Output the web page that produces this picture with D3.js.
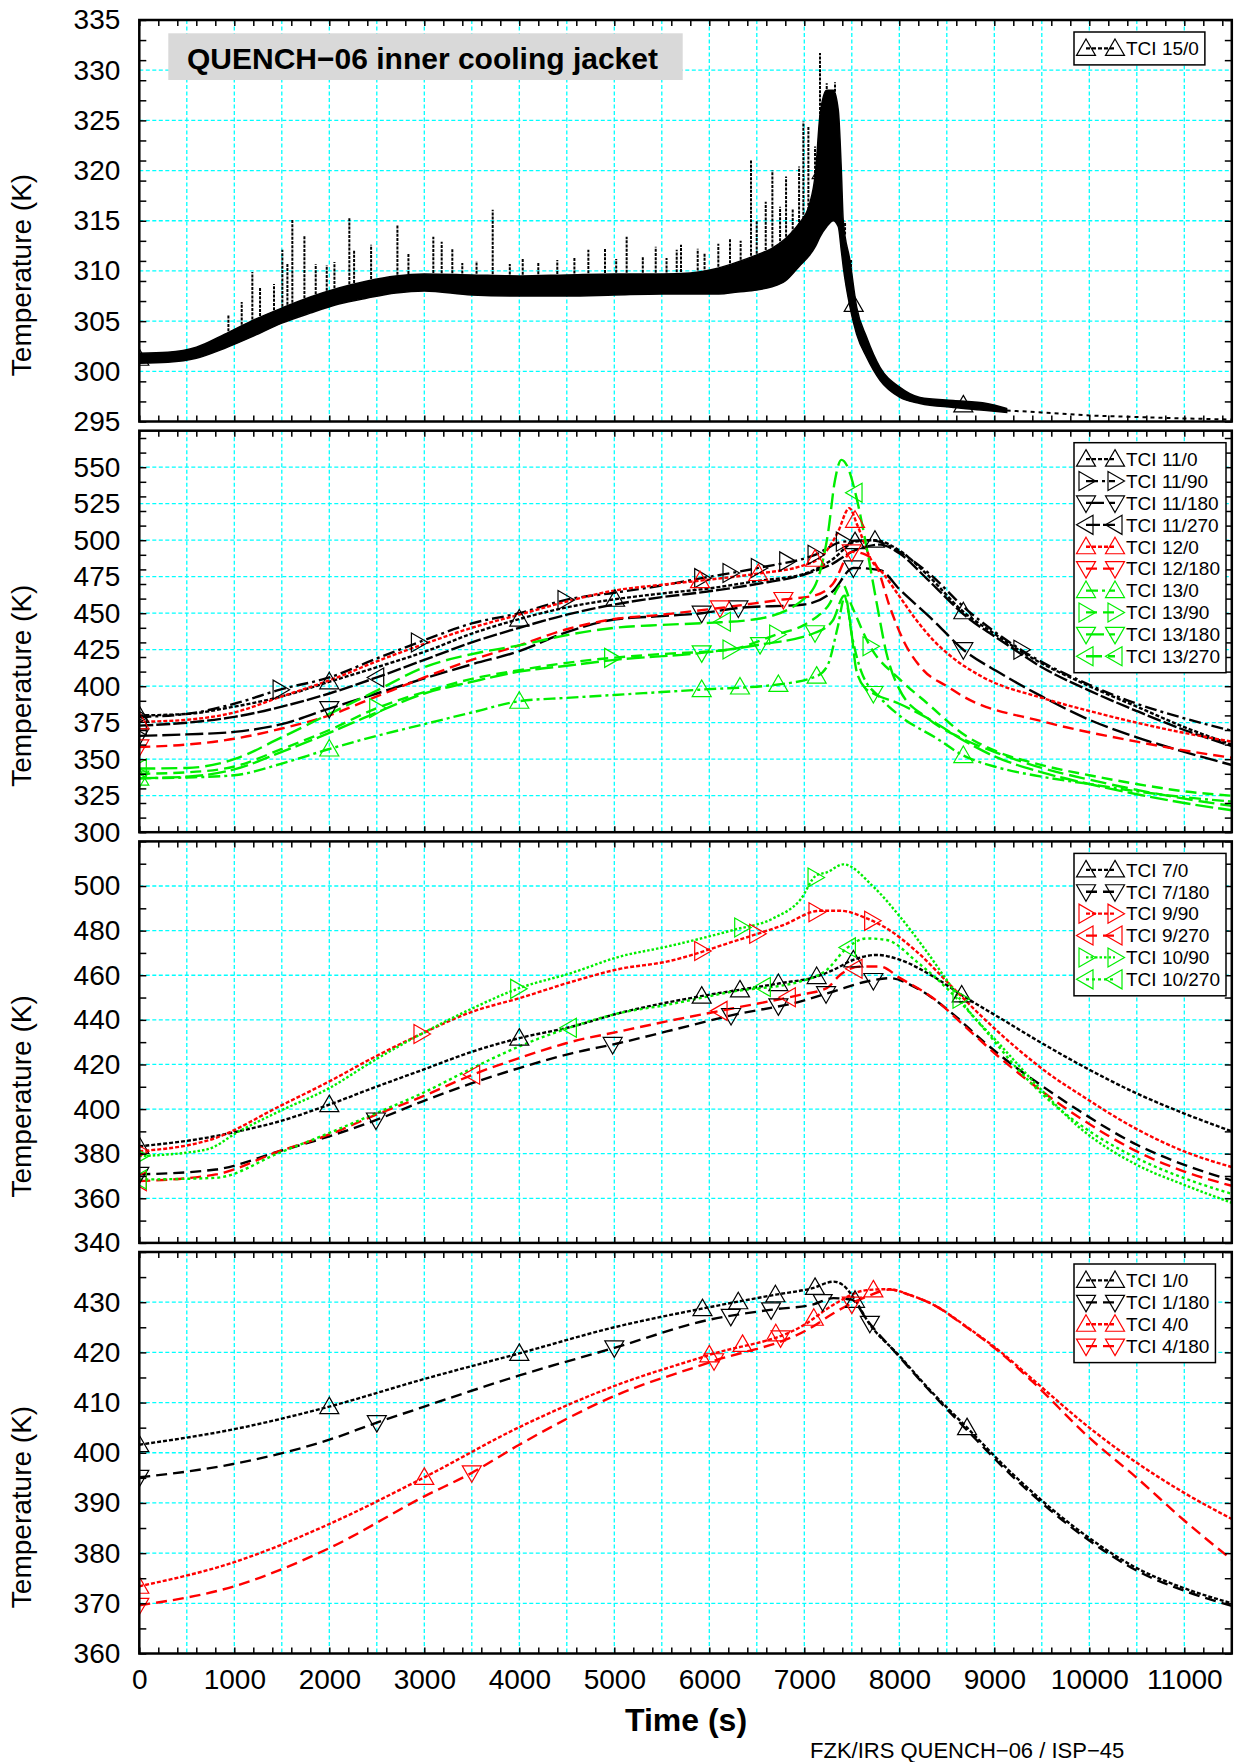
<!DOCTYPE html>
<html>
<head>
<meta charset="utf-8">
<script src="https://cdn.jsdelivr.net/npm/d3@7"></script>
<style>
  body { margin: 0; background: #fff; }
  text { font-family: "Liberation Sans", Arial, Helvetica, sans-serif; }
</style>
</head>
<body>
<svg id="chart" width="1234" height="1762"></svg>
<script>
// ---------------- data ----------------
const timeTicks = [0, 1000, 2000, 3000, 4000, 5000, 6000, 7000, 8000, 9000, 10000, 11000];

// Panel 1: TCI 15/0 (noisy signal given as a band plus individual spikes)
const tci15Time = [0, 300, 600, 900, 1200, 1500, 1800, 2100, 2400, 2700, 3000, 3500, 4000, 4500, 5000, 5500, 5800, 6100, 6300, 6500, 6650, 6800, 6950, 7050, 7120, 7165, 7235, 7305, 7358, 7390, 7410, 7481, 7551, 7656, 7797, 8007, 8218, 8569, 8920, 9130];
const tci15Low  = [300.8, 300.9, 301.3, 302.3, 303.5, 304.8, 305.8, 306.7, 307.3, 307.8, 308.0, 307.6, 307.5, 307.5, 307.6, 307.7, 307.7, 307.7, 307.9, 308.1, 308.4, 309.0, 310.5, 311.5, 312.5, 313.4, 314.4, 315.0, 314.4, 312.0, 310.4, 306.4, 303.7, 301.4, 299.1, 297.4, 296.8, 296.4, 296.1, 295.9];
const tci15High = [301.8, 301.9, 302.4, 303.7, 305.1, 306.3, 307.4, 308.3, 309.0, 309.5, 309.7, 309.6, 309.5, 309.6, 309.7, 309.7, 309.8, 310.3, 310.9, 311.6, 312.2, 313.2, 314.8, 316.5, 320.0, 325.5, 328.0, 328.0, 326.0, 320.0, 315.0, 311.0, 306.4, 303.4, 300.4, 298.4, 297.4, 297.1, 296.8, 296.3];
const tci15SpikeTime = [938, 1078, 1190, 1271, 1418, 1506, 1559, 1611, 1738, 1857, 1973, 2054, 2211, 2261, 2440, 2717, 2833, 3095, 3183, 3295, 3400, 3550, 3720, 3900, 4036, 4200, 4400, 4580, 4727, 4902, 5020, 5130, 5300, 5436, 5550, 5657, 5702, 5878, 5950, 6095, 6218, 6330, 6439, 6499, 6594, 6664, 6745, 6808, 6878, 6945, 6990, 7043, 7113, 7165, 7236, 7323, 7429, 7492];
const tci15SpikePeak = [305.6, 306.9, 309.9, 308.4, 308.7, 312.1, 310.7, 315.1, 313.5, 310.7, 310.6, 310.9, 315.3, 312.1, 312.6, 314.6, 311.7, 313.4, 312.9, 312.2, 310.8, 311.0, 316.1, 310.7, 311.2, 310.9, 311.1, 311.4, 312.1, 312.2, 311.2, 313.4, 311.5, 312.4, 311.3, 312.1, 312.6, 312.2, 311.8, 312.7, 313.2, 313.0, 321.1, 315.0, 316.9, 320.0, 316.4, 319.4, 316.2, 320.4, 324.9, 324.4, 322.4, 331.7, 328.7, 328.8, 314.9, 311.1];
const tci15Tail = [[9130, 296.1], [9500, 295.9], [10000, 295.6], [10500, 295.45], [11000, 295.3], [11500, 295.2]];
const tci15Marks = [0, 5920, 6727, 7183, 7520, 8674];

// Panel 2: elevations 11, 12, 13
const tci11_0 = [[0,380],[500,381],[1000,386],[1500,393],[2000,403],[2500,413],[3000,423.5],[3500,436],[4000,446],[4500,454],[5000,459.5],[5500,463.5],[6000,467],[6500,472],[7000,477],[7300,487],[7534,499],[7744,500],[8000,493],[8300,476],[8674,451],[9000,436],[9300,423],[10000,400],[10500,386],[11000,372],[11500,360]];
const tci11_0Marks = [0, 2000, 4000, 5008, 7534, 7744, 8674];
const tci11_90 = [[0,379],[500,381],[1000,388],[1500,398],[2000,406],[2500,419],[3000,431.5],[3500,443],[4000,450],[4481,459],[5000,464],[5500,469],[5920,474],[6516,481],[7113,490],[7411,499],[7700,500],[8000,492],[8300,478],[8700,453],[9280,425],[10000,401],[10500,388],[11000,378],[11500,369.5]];
const tci11_90Marks = [0, 1482, 2938, 4481, 5920, 6218, 6516, 6815, 7113, 7411, 9280];
const tci11_180 = [[0,366],[500,367],[1000,368.7],[1500,374],[2000,384.7],[2500,395],[3000,405.3],[3500,415],[4000,424],[4500,437],[5000,445.7],[5500,448],[5920,450],[6306,453.6],[7000,456],[7300,465],[7516,481],[7797,479.5],[8007,466],[8358,445],[8674,425],[9060,409],[9500,393],[10000,377],[10500,365],[11000,355],[11500,346]];
const tci11_180Marks = [0, 2000, 5920, 6306, 7516, 8674];
const tci11_270 = [[0,373],[500,375],[1000,379],[1500,386],[2000,395],[2499,406],[3000,418],[3500,430],[4000,440],[4500,449],[5000,456],[5500,461],[6000,465],[6500,470],[7000,476.5],[7300,484],[7500,492],[7800,497],[8000,491],[8300,473],[8700,448],[9100,430],[9500,413],[10000,397],[10500,383],[11000,370],[11500,359]];
const tci11_270Marks = [0, 2499];
const tci12_0 = [[0,375.6],[500,377],[1000,382],[1500,393],[2000,404],[2500,417],[3000,429],[3500,440],[4000,449],[4500,458],[5000,465.5],[5500,469.5],[6000,473],[6500,477],[7000,483],[7200,490],[7350,505],[7474,522],[7560,510],[7700,487],[7832,477],[8007,461],[8183,445],[8358,431.5],[8534,421],[8885,406],[9500,392],[10000,383],[10500,375],[11000,368],[11500,362]];
const tci12_0Marks = [0, 5902, 6516, 7113, 7534];
const tci12_180 = [[0,358.4],[500,360],[1000,364],[1500,371],[2000,380],[2500,393],[3000,406],[3500,418],[4000,428],[4500,439],[5000,446],[5500,449],[6113,453.6],[6780,459.4],[7100,462],[7300,470],[7499,492],[7650,490],[7762,482],[7902,454],[8042,431.5],[8253,411],[8500,400],[8700,392],[9500,376],[10500,362],[11000,356],[11500,351]];
const tci12_180Marks = [0, 6113, 6780, 7499];
const tci13_0 = [[0,337],[500,337.5],[1000,339],[1500,347],[2000,357],[2500,366],[3000,374],[3500,382],[4000,389.7],[4500,392],[5000,394],[5500,396],[5920,397.7],[6727,401.2],[7130,406.9],[7250,415],[7350,440],[7430,462],[7500,435],[7600,410],[7800,392],[8000,380],[8400,364],[8674,352.5],[9000,345],[9500,338],[10000,333],[10500,328],[11000,324],[11500,321]];
const tci13_0Marks = [0, 2000, 4000, 5920, 6323, 6727, 7130, 8674];
const tci13_90 = [[0,340],[500,341],[1000,345],[1500,357],[2000,370],[2500,385],[3000,396],[3500,405],[4000,411],[4500,416],[4972,419.4],[5500,422],[6218,425.1],[6709,435.4],[7000,442],[7250,455],[7400,470],[7500,455],[7692,427.4],[8000,405],[8300,388],[8700,366],[9000,356],[9500,346],[10000,339],[10500,333],[11000,328],[11500,325]];
const tci13_90Marks = [0, 2499, 4972, 6218, 6709, 7692];
const tci13_180 = [[0,337],[500,338],[1000,343],[1500,355],[2000,368],[2500,382],[3000,395],[3500,403],[4000,410],[4500,414],[5000,418],[5920,422.8],[6534,428.5],[7113,436.6],[7300,445],[7420,462],[7480,445],[7551,410],[7650,398],[7727,395],[8000,388],[8300,378],[8700,362],[9000,352],[9500,341],[10000,333],[10500,326],[11000,320],[11500,315]];
const tci13_180Marks = [0, 5920, 6534, 7113, 7727];
const tci13_270 = [[0,343.6],[500,344],[1000,350],[1500,365],[2000,381],[2500,397],[3000,413],[3500,422],[4000,428],[4500,435],[5000,440],[5500,442],[6000,443.4],[6500,446],[7000,460],[7150,475],[7250,505],[7320,540],[7390,555],[7450,551],[7550,529],[7656,495],[7762,457],[7867,422],[8000,398],[8300,378],[8700,363],[9000,355],[9500,344],[10000,336],[10500,329],[11000,323],[11500,318]];
const tci13_270Marks = [0, 6148, 7534];

// Panel 3: elevations 7, 9, 10
const tci7_0 = [[0,383.3],[700,387.1],[1050,390.1],[1475,394.5],[2000,402],[2456,409.4],[2983,417.6],[3509,425.8],[4000,431.8],[4560,437],[5050,443],[5900,450.5],[6744,456.4],[7130,459.4],[7306,462.4],[7516,466.9],[7762,469.1],[8008,466.9],[8358,459.4],[8710,449.7],[9061,440.8],[9411,431.8],[9902,419.9],[10500,407],[11000,398],[11500,390]];
const tci7_0Marks = [0, 2000, 4000, 5920, 6323, 6727, 7130, 7516, 8657];
const tci7_180 = [[0,370.7],[807,372.9],[1474,381.1],[2000,387.8],[2456,394.5],[2983,403.5],[3509,411.7],[4000,418.4],[4562,425.1],[5053,429.6],[5551,434.8],[6253,442.2],[6955,448.2],[7306,452.7],[7657,457.2],[7902,458.7],[8183,454.2],[8534,443.7],[8885,430.3],[9236,418.4],[9587,407.9],[9902,399],[10500,384],[11000,375],[11500,368]];
const tci7_180Marks = [0, 2491, 4983, 6229, 6727, 7229, 7727];
const tci9_90 = [[0,381.1],[807,387.1],[1474,401.2],[2000,412.4],[2456,422.9],[2983,434],[3509,443.7],[4000,449.7],[4562,457.2],[5053,462.8],[5551,466.1],[6253,475.1],[6779,482.5],[7165,488.9],[7376,488.9],[7657,485.5],[7867,481],[8183,470.6],[8534,455.7],[8885,440.8],[9236,427.3],[9587,415.4],[9902,406.5],[10500,391],[11000,381],[11500,374]];
const tci9_90Marks = [0, 2965, 5920, 6499, 7123, 7709];
const tci9_270 = [[0,367.7],[807,370.7],[1474,381.1],[2000,388.6],[2456,396.8],[2983,405.7],[3509,415.4],[4000,422.9],[4562,430.3],[5053,434.8],[5551,439.3],[6253,445.2],[6955,451.2],[7236,454.2],[7376,460.1],[7587,463.9],[7797,463.9],[8008,458.7],[8358,449.7],[8710,436.3],[9061,422.9],[9411,410.9],[9902,396],[10500,381],[11000,372],[11500,365.6]];
const tci9_270Marks = [0, 3509, 6113, 6832, 7534];
const tci10_90 = [[0,378.9],[702,381.8],[1053,390.1],[1474,399],[2000,409.4],[2456,421.4],[2983,434],[3509,445.2],[4000,454.2],[4562,461.2],[5053,468.3],[5551,472.8],[6253,480.3],[6674,485.5],[6955,493.7],[7130,504.9],[7236,506.1],[7411,509.7],[7727,499.7],[8008,486.2],[8288,470.6],[8534,455.7],[8710,445.2],[9061,428.8],[9411,412.4],[9902,391.5],[10500,375],[11000,366],[11500,358]];
const tci10_90Marks = [0, 3983, 6341, 7113, 8639];
const tci10_270 = [[0,368.4],[807,369.2],[1474,380.4],[2000,389.3],[2456,397.5],[2983,407.2],[3509,418.4],[4000,428.1],[4562,437],[5053,443],[5551,446.7],[6253,452.7],[6955,457.2],[7236,462.4],[7446,472.1],[7657,476.5],[7867,475.8],[8183,466.1],[8534,452.7],[8885,436.3],[9236,418.4],[9587,403.5],[9902,393],[10500,378],[11000,369],[11500,362]];
const tci10_270Marks = [0, 4527, 6569, 7464];

// Panel 4: elevations 1, 4
const tci1_0 = [[0,401.6],[1000,404.7],[2000,409.2],[3000,414.7],[4000,419.8],[5000,425],[6000,429],[6700,431.5],[7087,432.8],[7307,434.1],[7400,433.5],[7550,430],[7657,426.5],[8007,419.2],[8288,413.2],[8713,405],[9180,396],[10000,383],[10500,377],[11000,373],[11500,370]];
const tci1_0Marks = [0, 2000, 4000, 5928, 6305, 6696, 7113, 7534, 8713];
const tci1_180 = [[0,395.1],[1000,397.8],[2000,402.6],[2500,406],[3000,409.2],[4000,415.4],[5000,420.9],[6000,426.5],[6696,428.6],[7087,429.5],[7307,430.8],[7500,430.5],[7657,426.5],[8007,419],[8288,413],[8713,404.5],[9180,395.5],[10000,382.5],[10500,376.5],[11000,372.5],[11500,369.5]];
const tci1_180Marks = [0, 2500, 5000, 6226, 6650, 7193, 7690];
const tci4_0 = [[0,373.4],[1000,378.2],[2000,385.8],[3000,395.1],[4000,405.1],[5000,413.3],[6000,419.5],[7000,425.5],[7307,429.5],[7657,432.4],[7900,432.6],[8100,431.5],[8358,429.5],[8709,425.1],[9060,420.2],[9411,414.5],[10000,405],[10500,398],[11000,392],[11500,386.8]];
const tci4_0Marks = [0, 3000, 6000, 6350, 6700, 7100, 7727];
const tci4_180 = [[0,369.6],[1000,373.4],[2000,381],[3000,391.3],[3500,396],[4000,401.6],[5000,411.3],[6000,418],[7087,425.1],[7307,427.8],[7657,431.1],[7900,432.5],[8100,431.5],[8358,429.5],[8709,425],[9060,420],[9411,414],[10000,403],[10500,395],[11000,386.5],[11500,378.7]];
const tci4_180Marks = [0, 3500, 6050, 6750, 7500];

// axis ranges and tick values per panel
const p1Domain = [295, 335], p1Labels = d3.range(295, 336, 5), p1Minor = d3.range(295, 336, 2);
const p2Domain = [300, 575], p2Labels = d3.range(300, 551, 25), p2Minor = d3.range(300, 576, 10);
const p3Domain = [340, 520], p3Labels = d3.range(340, 501, 20), p3Minor = d3.range(340, 521, 10);
const p4Domain = [360, 440], p4Labels = d3.range(360, 431, 10), p4Minor = d3.range(360, 441, 5);

// ---------------- styles ----------------
const BLACK = "#000000", RED = "#ff0000", GREEN = "#00ee00";
const DOT = "4,2", DASH = "11,6", LONG = "18,5", DASHDOT = "12,4,3,4", FINE = "2.5,2";

const tci15Series = { name: "TCI 15/0", color: BLACK, dash: "4,2", shape: "up" };

const panel2Series = [
  { name: "TCI 11/0",   data: tci11_0,   marks: tci11_0Marks,   color: BLACK, dash: DOT,     shape: "up" },
  { name: "TCI 11/90",  data: tci11_90,  marks: tci11_90Marks,  color: BLACK, dash: DASHDOT, shape: "right" },
  { name: "TCI 11/180", data: tci11_180, marks: tci11_180Marks, color: BLACK, dash: LONG,    shape: "down" },
  { name: "TCI 11/270", data: tci11_270, marks: tci11_270Marks, color: BLACK, dash: "14,3",  shape: "left" },
  { name: "TCI 12/0",   data: tci12_0,   marks: tci12_0Marks,   color: RED,   dash: DOT,     shape: "up" },
  { name: "TCI 12/180", data: tci12_180, marks: tci12_180Marks, color: RED,   dash: DASH,    shape: "down" },
  { name: "TCI 13/0",   data: tci13_0,   marks: tci13_0Marks,   color: GREEN, dash: DASHDOT, shape: "up" },
  { name: "TCI 13/90",  data: tci13_90,  marks: tci13_90Marks,  color: GREEN, dash: DASH,    shape: "right" },
  { name: "TCI 13/180", data: tci13_180, marks: tci13_180Marks, color: GREEN, dash: LONG,    shape: "down" },
  { name: "TCI 13/270", data: tci13_270, marks: tci13_270Marks, color: GREEN, dash: "16,6",  shape: "left" }
];
const panel3Series = [
  { name: "TCI 7/0",    data: tci7_0,    marks: tci7_0Marks,    color: BLACK, dash: DOT,   shape: "up" },
  { name: "TCI 7/180",  data: tci7_180,  marks: tci7_180Marks,  color: BLACK, dash: DASH,  shape: "down" },
  { name: "TCI 9/90",   data: tci9_90,   marks: tci9_90Marks,   color: RED,   dash: DOT,   shape: "right" },
  { name: "TCI 9/270",  data: tci9_270,  marks: tci9_270Marks,  color: RED,   dash: DASH,  shape: "left" },
  { name: "TCI 10/90",  data: tci10_90,  marks: tci10_90Marks,  color: GREEN, dash: FINE,  shape: "right" },
  { name: "TCI 10/270", data: tci10_270, marks: tci10_270Marks, color: GREEN, dash: "3,3", shape: "left" }
];
const panel4Series = [
  { name: "TCI 1/0",   data: tci1_0,   marks: tci1_0Marks,   color: BLACK, dash: DOT,  shape: "up" },
  { name: "TCI 1/180", data: tci1_180, marks: tci1_180Marks, color: BLACK, dash: DASH, shape: "down" },
  { name: "TCI 4/0",   data: tci4_0,   marks: tci4_0Marks,   color: RED,   dash: DOT,  shape: "up" },
  { name: "TCI 4/180", data: tci4_180, marks: tci4_180Marks, color: RED,   dash: DASH, shape: "down" }
];

// ---------------- layout ----------------
const svg = d3.select("#chart");
const plotLeft = 139.3, plotRight = 1231.8;
const panelTops = [20, 430.7, 841.4, 1252];
const panelH = 401.5;
const x = d3.scaleLinear().domain([0, 11500]).range([plotLeft, plotRight]);
const gridTimes = d3.range(500, 11500, 500);
const minorTimes = d3.range(0, 11501, 200);

const panels = [
  { domain: p1Domain, labels: p1Labels, minor: p1Minor, series: [tci15Series], band: true },
  { domain: p2Domain, labels: p2Labels, minor: p2Minor, series: panel2Series },
  { domain: p3Domain, labels: p3Labels, minor: p3Minor, series: panel3Series },
  { domain: p4Domain, labels: p4Labels, minor: p4Minor, series: panel4Series }
];

const trianglePaths = {
  up:    "M0,-9.5L9.5,7L-9.5,7Z",
  down:  "M0,9.5L9.5,-7L-9.5,-7Z",
  right: "M9.5,0L-7,-9.5L-7,9.5Z",
  left:  "M-9.5,0L7,-9.5L7,9.5Z"
};

function valueAt(data, t) {
  const i = d3.bisector(d => d[0]).left(data, t);
  if (i <= 0) return data[0][1];
  if (i >= data.length) return data[data.length - 1][1];
  const a = data[i - 1], b = data[i];
  return a[1] + (b[1] - a[1]) * (t - a[0]) / (b[0] - a[0]);
}

panels.forEach((p, pi) => {
  const top = panelTops[pi], bottom = top + panelH;
  const y = d3.scaleLinear().domain(p.domain).range([bottom, top]);
  const g = svg.append("g");

  // grid
  const grid = g.append("g").attr("stroke", "#00ffff").attr("stroke-width", 1.3).attr("stroke-dasharray", "4,2.5");
  grid.selectAll("line.v").data(gridTimes).join("line")
    .attr("x1", d => x(d)).attr("x2", d => x(d)).attr("y1", top).attr("y2", bottom);
  grid.selectAll("line.h").data(p.labels.filter(v => v > p.domain[0] && v < p.domain[1])).join("line")
    .attr("x1", plotLeft).attr("x2", plotRight).attr("y1", d => y(d)).attr("y2", d => y(d));

  // clip region
  const clipId = "clip" + pi;
  svg.append("clipPath").attr("id", clipId).append("rect")
    .attr("x", plotLeft).attr("y", top).attr("width", plotRight - plotLeft).attr("height", panelH);
  const plot = g.append("g").attr("clip-path", `url(#${clipId})`);

  if (p.band) {
    const s = p.series[0];
    const bandData = tci15Time.map((t, i) => [t, tci15Low[i], tci15High[i]]);
    plot.append("path").datum(bandData)
      .attr("fill", BLACK).attr("stroke", BLACK).attr("stroke-width", 1.5)
      .attr("d", d3.area().x(d => x(d[0])).y0(d => y(d[1])).y1(d => y(d[2])).curve(d3.curveMonotoneX));
    const highLine = tci15Time.map((t, i) => [t, tci15High[i]]);
    plot.selectAll("line.spike").data(tci15SpikeTime).join("line")
      .attr("x1", d => x(d)).attr("x2", d => x(d))
      .attr("y1", d => y(valueAt(highLine, d) - 0.3))
      .attr("y2", (d, i) => y(tci15SpikePeak[i]))
      .attr("stroke", BLACK).attr("stroke-width", 2).attr("stroke-dasharray", "3,1.2");
    plot.append("path").datum(tci15Tail)
      .attr("fill", "none").attr("stroke", BLACK).attr("stroke-width", 2).attr("stroke-dasharray", "4,4")
      .attr("d", d3.line().x(d => x(d[0])).y(d => y(d[1])));
    const midLine = tci15Time.map((t, i) => [t, (tci15Low[i] + tci15High[i]) / 2]);
    plot.selectAll("path.mk").data(tci15Marks).join("path")
      .attr("transform", d => `translate(${x(d)},${y(valueAt(midLine, d))})`)
      .attr("d", trianglePaths[s.shape]).attr("fill", "none").attr("stroke", s.color).attr("stroke-width", 1.2);
  } else {
    p.series.forEach(s => {
      plot.append("path").datum(s.data)
        .attr("fill", "none").attr("stroke", s.color).attr("stroke-width", 2.4)
        .attr("stroke-dasharray", s.dash)
        .attr("d", d3.line().x(d => x(d[0])).y(d => y(d[1])).curve(d3.curveMonotoneX));
    });
    p.series.forEach(s => {
      plot.selectAll(null).data(s.marks).join("path")
        .attr("transform", d => `translate(${x(d)},${y(valueAt(s.data, d))})`)
        .attr("d", trianglePaths[s.shape]).attr("fill", "none").attr("stroke", s.color).attr("stroke-width", 1.2);
    });
  }

  // ticks (inward) on all four sides
  g.append("g").attr("transform", `translate(0,${bottom})`)
    .call(d3.axisBottom(x).tickValues(minorTimes).tickSize(-6).tickFormat(""));
  g.append("g").attr("transform", `translate(0,${top})`)
    .call(d3.axisTop(x).tickValues(minorTimes).tickSize(-6).tickFormat(""));
  g.append("g").attr("transform", `translate(${plotLeft},0)`)
    .call(d3.axisLeft(y).tickValues(p.minor).tickSize(-7).tickFormat(""));
  g.append("g").attr("transform", `translate(${plotRight},0)`)
    .call(d3.axisRight(y).tickValues(p.minor).tickSize(-7).tickFormat(""));
  g.selectAll(".domain").remove();
  g.selectAll(".tick line").attr("stroke", "#000").attr("stroke-width", 1.5);

  // y labels
  const yl = g.append("g").attr("transform", `translate(${plotLeft},0)`)
    .call(d3.axisLeft(y).tickValues(p.labels).tickSize(0).tickPadding(19).tickFormat(d3.format("d")));
  yl.select(".domain").remove();
  yl.selectAll("text").attr("font-size", 28).attr("fill", "#000")
    .attr("font-family", "'Liberation Sans', Arial, sans-serif");

  // frame
  g.append("rect").attr("x", plotLeft).attr("y", top).attr("width", plotRight - plotLeft).attr("height", panelH)
    .attr("fill", "none").attr("stroke", "#000").attr("stroke-width", 2.5);

  // y title
  svg.append("text")
    .attr("transform", `translate(31,${top + 255}) rotate(-90)`)
    .attr("text-anchor", "middle").attr("font-size", 28).text("Temperature (K)");

  // legend
  const lg = g.append("g");
  const boxLeft = 1074, boxTop = top + 12, rowH = 21.9;
  const box = lg.append("rect").attr("x", boxLeft).attr("y", boxTop)
    .attr("height", p.series.length * rowH + 11).attr("fill", "#fff")
    .attr("stroke", "#000").attr("stroke-width", 1.5);
  let maxW = 0;
  p.series.forEach((s, i) => {
    const cy = boxTop + 5.5 + rowH / 2 + i * rowH;
    lg.append("line").attr("x1", 1086).attr("x2", 1115).attr("y1", cy).attr("y2", cy)
      .attr("stroke", s.color).attr("stroke-width", 2.3).attr("stroke-dasharray", s.dash);
    [1086, 1115].forEach(mx => {
      lg.append("path").attr("transform", `translate(${mx},${cy})`).attr("d", trianglePaths[s.shape])
        .attr("fill", "none").attr("stroke", s.color).attr("stroke-width", 1.2);
    });
    const t = lg.append("text").attr("x", 1126).attr("y", cy).attr("dy", "0.36em")
      .attr("font-size", 19).text(s.name);
    maxW = Math.max(maxW, t.node().getComputedTextLength());
  });
  box.attr("width", 1126 + maxW + 6 - boxLeft);

  // x labels under the last panel
  if (pi === panels.length - 1) {
    const xl = g.append("g").attr("transform", `translate(0,${bottom})`)
      .call(d3.axisBottom(x).tickValues(timeTicks).tickSize(0).tickPadding(16).tickFormat(d3.format("d")));
    xl.select(".domain").remove();
    xl.selectAll("text").attr("font-size", 28).attr("fill", "#000")
      .attr("font-family", "'Liberation Sans', Arial, sans-serif");
  }
});

// title box
svg.append("rect").attr("x", 168.3).attr("y", 33.3).attr("width", 514.4).attr("height", 46.7).attr("fill", "#d9d9d9");
svg.append("text").attr("x", 187).attr("y", 68.5).attr("font-size", 30).attr("font-weight", "bold")
  .text("QUENCH\u221206 inner cooling jacket");

// axis title and footer
svg.append("text").attr("x", 686).attr("y", 1731).attr("text-anchor", "middle")
  .attr("font-size", 32).attr("font-weight", "bold").text("Time (s)");
svg.append("text").attr("x", 810).attr("y", 1758).attr("font-size", 22)
  .text("FZK/IRS QUENCH\u221206 / ISP\u221245");
</script>
</body>
</html>
